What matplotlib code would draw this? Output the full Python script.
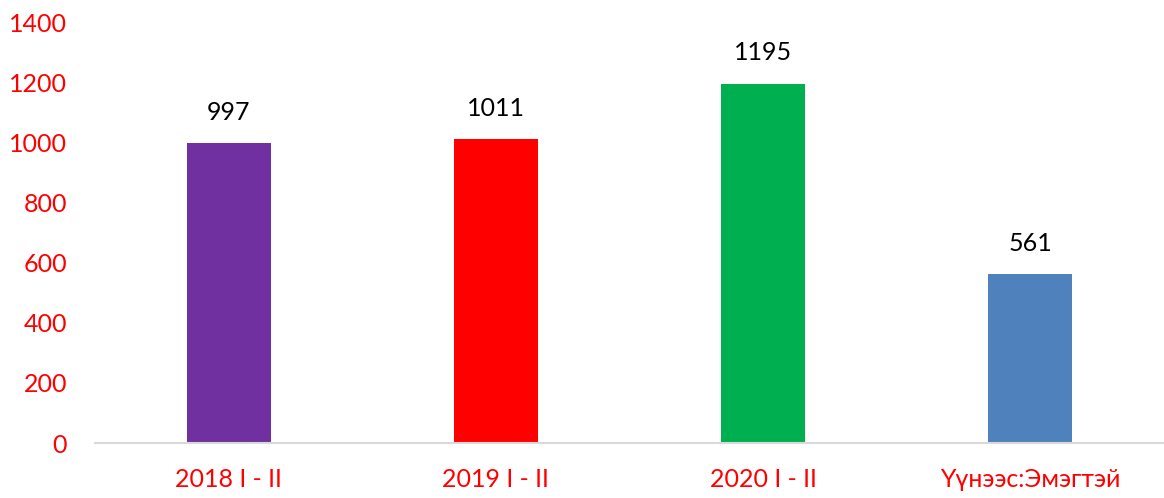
import matplotlib
matplotlib.use("Agg")
import matplotlib.pyplot as plt

categories = ["2018 I - II", "2019 I - II", "2020 I - II", "Үүнээс:Эмэгтэй"]
values = [997, 1011, 1195, 561]
colors = ["#7030A0", "#FF0000", "#00B050", "#4F81BD"]
yticks = [0, 200, 400, 600, 800, 1000, 1200, 1400]

plt.rcParams['font.family'] = ['Lato', 'DejaVu Sans']

fig = plt.figure(figsize=(11.64, 4.98), dpi=100)
ax = fig.add_axes([95/1164, 55/498, 1 - 95/1164, (443-22)/498])

x = range(len(categories))
bars = ax.bar(x, values, width=0.315, color=colors, zorder=2)
for xi, v in zip(x, values):
    ax.annotate(str(v), (xi, v), xytext=(0, 14), textcoords="offset points",
                ha="center", va="bottom", fontsize=18, color="#000000")

ax.set_xlim(-0.5, 3.5)
ax.set_ylim(0, 1400)
ax.set_yticks(yticks)
ax.set_yticklabels([str(t) for t in yticks], fontsize=18, color="#FF0000")
ax.set_xticks(list(x))
ax.set_xticklabels(categories, fontsize=18, color="#FF0000")
ax.tick_params(axis='y', length=0, pad=20)
ax.tick_params(axis='x', length=0, pad=18)
for s in ["top", "right", "left"]:
    ax.spines[s].set_visible(False)
ax.spines["bottom"].set_color("#D9D9D9")
ax.spines["bottom"].set_linewidth(1.5)

fig.savefig("out.png", dpi=100)
